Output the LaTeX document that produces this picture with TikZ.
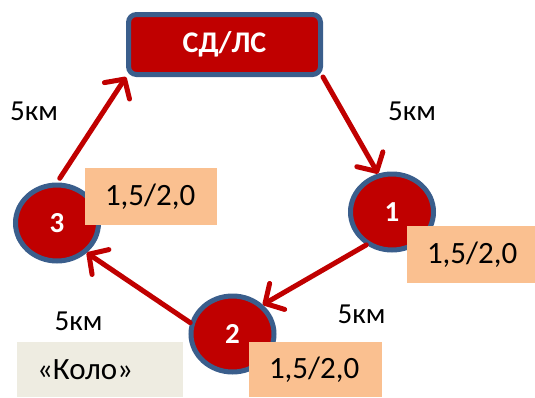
\documentclass[tikz,border=0pt]{standalone}
\usepackage{fontspec}
\setmainfont{Carlito}
\usetikzlibrary{shapes.geometric}
\usetikzlibrary{arrows.meta}
\definecolor{ringred}{HTML}{C00000}
\definecolor{ringblue}{HTML}{3A5E8C}
\definecolor{loadorange}{HTML}{FAC090}
\definecolor{namebeige}{HTML}{EEECE1}

\begin{document}
\begin{tikzpicture}[x=1pt,y=-1pt,
    stop/.style={ellipse, draw=ringblue, line width=5pt, fill=ringred, text=white,
        font=\fontsize{29}{31}\selectfont\bfseries, minimum width=83pt, minimum height=76pt, inner sep=0pt},
    depot/.style={rectangle, rounded corners=8pt, draw=ringblue, line width=5pt, fill=ringred, text=white,
        font=\fontsize{30}{32}\selectfont\bfseries, minimum width=192pt, minimum height=60pt},
    leg/.style={draw=ringred, line width=5pt, line cap=round, -{Straight Barb[length=14pt,width=30pt,round]}},
    dist/.style={font=\fontsize{29}{31}\selectfont},
    load/.style={fill=loadorange, font=\fontsize{31}{33}\selectfont, inner xsep=20pt, inner ysep=0pt,
        align=left, minimum height=57pt},
]
    % Frame
    \useasboundingbox (0,0) rectangle (535,397);

    % Depot and stops
    \node[depot] (depot) at (224.5,44.5) {СД/ЛС};
    \node[stop] (s1) at (392,212) {1};
    \node[stop] (s2) at (232.5,334) {2};
    \node[stop] (s3) at (57,223) {3};

    % Route
    \draw[leg] (depot.south east) -- (s1.110);
    \draw[leg] (s1.232) -- (s2.44);
    \draw[leg] (s2.165) -- (s3.-45);
    \draw[leg, shorten <=5pt] (s3.north) -- (depot.south west);

    % Distances
    \node[dist] (d1) at (412,111) {5км};
    \node[dist] (d2) at (361.5,314.5) {5км};
    \node[dist] (d3) at (78.5,321.5) {5км};
    \node[dist] (d4) at (34,111) {5км};

    % Loads
    \node[load, text width=92pt] (l3) at (151,196.5) {1,5/2,0};
    \node[load, text width=88pt] (l1) at (471,254.5) {1,5/2,0};
    \node[load, text width=93pt, minimum height=55pt] (l2) at (315.5,369.5) {1,5/2,0};

    % Name
    \node[load, fill=namebeige, text width=126pt, minimum height=55pt] (name) at (100,369.5) {«Коло»};
\end{tikzpicture}
\end{document}
